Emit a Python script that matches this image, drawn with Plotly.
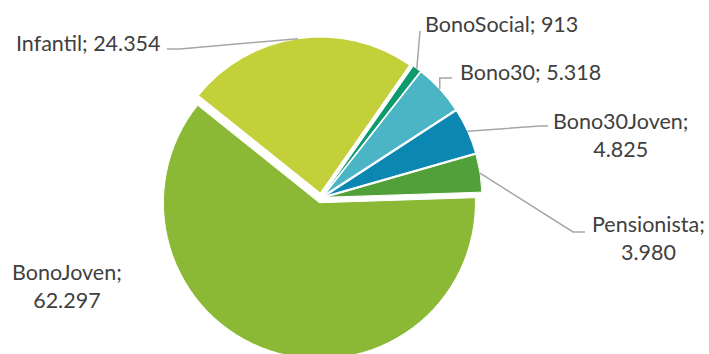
import math
import plotly.graph_objects as go

# Slices, listed clockwise starting from the small BonoSocial wedge
labels = ["BonoSocial", "Bono30", "Bono30Joven", "Pensionista", "BonoJoven", "Infantil"]
values = [913, 5318, 4825, 3980, 62297, 24354]
colors = ["#0E9A6C", "#4BB5C6", "#0C87B1", "#52A03A", "#8BB935", "#C3D03A"]

# Figure geometry (pixels)
W, H = 709, 360
CX, CY = 321, 198      # pie centre
R = 156                # pie radius
PULL = 0.032           # every slice is exploded slightly
START = 34.9           # degrees clockwise from 12 o'clock where the first slice begins

TEXT_COLOR = "#404040"
LINE_COLOR = "#A6A6A6"
FONT = dict(family="Lato, Calibri, sans-serif", size=21.5, color=TEXT_COLOR)


def fmt(v):
    return f"{v:,}".replace(",", ".")


def px(x, y):
    """pixel position -> paper coordinates"""
    return x / W, 1 - y / H


half = R * (1 + PULL)
fig = go.Figure(
    go.Pie(
        labels=labels,
        values=values,
        sort=False,
        direction="clockwise",
        rotation=START,
        pull=[PULL] * len(values),
        marker=dict(colors=colors, line=dict(color="white", width=1)),
        textinfo="none",
        hoverinfo="label+value",
        showlegend=False,
        domain=dict(
            x=[(CX - half) / W, (CX + half) / W],
            y=[1 - (CY + half) / H, 1 - (CY - half) / H],
        ),
    )
)

# Point on the outer arc of each (exploded) slice at its mid-angle
total = sum(values)
anchor = {}
cum = 0
for name, v in zip(labels, values):
    a = math.radians(START + 360 * (cum + v / 2) / total)
    anchor[name] = (CX + half * math.sin(a), CY - half * math.cos(a))
    cum += v

# Leader lines: slice edge -> elbow(s) -> label
sx, sy = anchor["Bono30"]
leaders = {
    "Infantil": [anchor["Infantil"], (180, 49), (167, 49)],
    "BonoSocial": [anchor["BonoSocial"], (420, 31)],
    "Bono30": [anchor["Bono30"], (sx, 78), (452, 78)],
    "Bono30Joven": [anchor["Bono30Joven"], (540, 126), (548, 126)],
    "Pensionista": [anchor["Pensionista"], (573, 232), (585, 232)],
}
for pts in leaders.values():
    path = ""
    for k, (x, y) in enumerate(pts):
        xp, yp = px(x, y)
        path += ("M" if k == 0 else " L") + f" {xp:.5f},{yp:.5f}"
    fig.add_shape(type="path", path=path, xref="paper", yref="paper",
                  line=dict(color=LINE_COLOR, width=1.5))

# Data labels: "name; value"
val = dict(zip(labels, values))
label_pos = {
    # name: (x, y, xanchor, two_lines)
    "Infantil": (88, 42.5, "center", False),
    "BonoSocial": (501, 24, "center", False),
    "Bono30": (458, 72.5, "left", False),
    "Bono30Joven": (620, 135, "center", True),
    "Pensionista": (648.5, 237.5, "center", True),
    "BonoJoven": (67, 286, "center", True),
}
for name, (x, y, xa, two) in label_pos.items():
    sep = ";<br>" if two else "; "
    xp, yp = px(x, y)
    fig.add_annotation(
        x=xp, y=yp, xref="paper", yref="paper",
        text=f"{name}{sep}{fmt(val[name])}",
        showarrow=False, xanchor=xa, yanchor="middle", align="center",
        font=FONT,
    )

fig.update_layout(
    width=W, height=H,
    margin=dict(l=0, r=0, t=0, b=0),
    paper_bgcolor="white",
    plot_bgcolor="white",
)

fig.write_html("out.html")
